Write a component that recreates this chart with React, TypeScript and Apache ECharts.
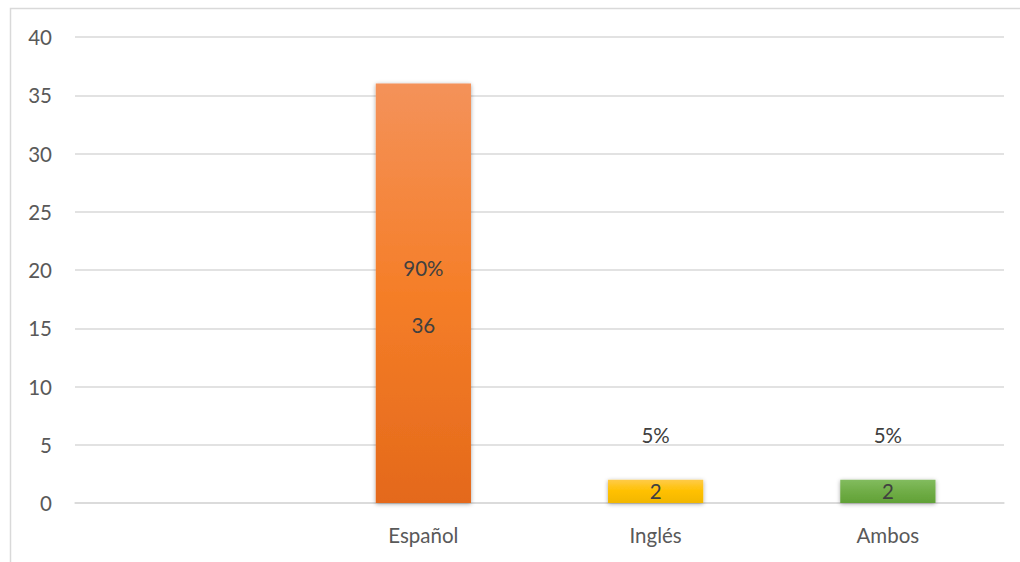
import React, { useEffect, useRef } from "react";
import * as echarts from "echarts";

const categories = ["", "Español", "Inglés", "Ambos"];
const counts: (number | null)[] = [null, 36, 2, 2];
const percents: (string | null)[] = [null, "90%", "5%", "5%"];
const yTicks = { min: 0, max: 40, interval: 5 };

const gradients = [
  ["#F4925A", "#F57E28", "#E4691B"],
  ["#F4925A", "#F57E28", "#E4691B"],
  ["#FFCB48", "#FFC000", "#F2B700"],
  ["#82BC5F", "#70AD47", "#61A136"],
];
const valueOffsets = [0, 32, 0, 0];
const pctOffsets = [0, -25, -56, -56];

export default function App() {
  const ref = useRef<HTMLDivElement>(null);
  useEffect(() => {
    document.body.style.margin = "0";
    const chart = echarts.init(ref.current!, null, { renderer: "svg" });
    const font = "Lato, 'Open Sans', sans-serif";
    const fs = 20.5;
    const mkGrad = (i: number) =>
      new echarts.graphic.LinearGradient(0, 0, 0, 1, [
        { offset: 0, color: gradients[i][0] },
        { offset: 0.5, color: gradients[i][1] },
        { offset: 1, color: gradients[i][2] },
      ]);
    chart.setOption({
      animation: false,
      backgroundColor: "#ffffff",
      graphic: [
        {
          type: "rect",
          shape: { x: 10.5, y: 8.5, width: 1100, height: 700 },
          style: { fill: "none", stroke: "#d9d9d9", lineWidth: 1.5 },
          silent: true,
          z: -1,
        },
      ],
      grid: { left: 75, right: 16, top: 37, bottom: 59, containLabel: false },
      xAxis: {
        type: "category",
        data: categories,
        axisLine: { lineStyle: { color: "#d9d9d9", width: 1.5 } },
        axisTick: { show: false },
        axisLabel: { color: "#595959", fontSize: fs, fontFamily: font, margin: 21 },
      },
      yAxis: {
        type: "value",
        min: yTicks.min,
        max: yTicks.max,
        interval: yTicks.interval,
        axisLine: { show: false },
        axisTick: { show: false },
        splitLine: { lineStyle: { color: "#d9d9d9", width: 1.5 } },
        axisLabel: { color: "#595959", fontSize: fs, fontFamily: font, margin: 23 },
      },
      series: [
        {
          type: "bar",
          barCategoryGap: "59%",
          data: counts.map((v, i) =>
            v == null
              ? null
              : {
                  value: v,
                  itemStyle: { color: mkGrad(i) },
                  label: {
                    show: true,
                    position: "inside",
                    offset: [0, valueOffsets[i]],
                    formatter: "{c}",
                    color: "#404040",
                    fontSize: fs,
                    fontFamily: font,
                  },
                }
          ),
          itemStyle: {
            shadowBlur: 4,
            shadowColor: "rgba(0,0,0,0.35)",
            shadowOffsetY: 1,
          },
          z: 2,
        },
        {
          type: "bar",
          barCategoryGap: "59%",
          barGap: "-100%",
          data: counts.map((v, i) =>
            v == null
              ? null
              : {
                  value: v,
                  itemStyle: { color: "rgba(0,0,0,0)" },
                  label: {
                    show: true,
                    position: "inside",
                    offset: [0, pctOffsets[i]],
                    formatter: () => percents[i] ?? "",
                    color: "#404040",
                    fontSize: fs,
                    fontFamily: font,
                  },
                }
          ),
          silent: true,
          z: 3,
        },
      ],
    });
    return () => chart.dispose();
  }, []);
  return <div ref={ref} style={{ width: 1020, height: 562 }} />;
}
